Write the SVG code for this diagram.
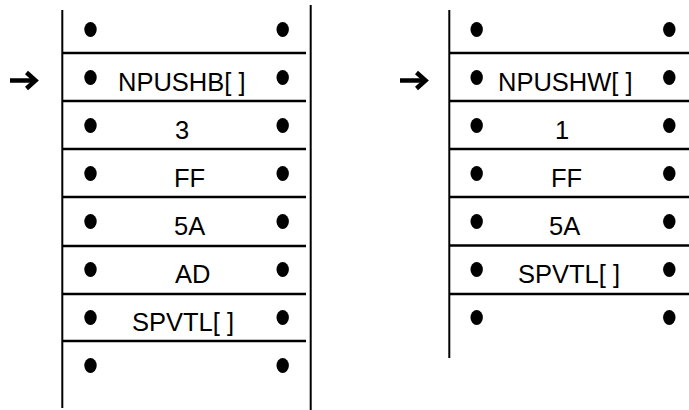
<svg xmlns="http://www.w3.org/2000/svg" width="689" height="410" viewBox="0 0 689 410">
<style>
.ln{stroke:#000;stroke-width:2;fill:none}
.hl{stroke:#000;stroke-width:2.5;fill:none}
.dot{fill:#000}
.t{font-family:"Liberation Sans",Arial,sans-serif;font-size:25.5px;fill:#000}
.arr{stroke:#000;stroke-width:4.5;fill:none;stroke-linejoin:miter}
</style>
<rect width="689" height="410" fill="#fff"/>
<defs>
<g id="dots"><ellipse cx="0" cy="0" rx="6.2" ry="7.5" class="dot"/></g>
</defs>
<g id="stackB">
<line class="ln" x1="62.3" y1="10" x2="62.3" y2="408"/>
<line class="ln" x1="310.7" y1="5" x2="310.7" y2="410"/>
<line class="hl" x1="62" y1="53" x2="306" y2="53"/>
<line class="hl" x1="62" y1="101" x2="306" y2="101"/>
<line class="hl" x1="62" y1="149" x2="306" y2="149"/>
<line class="hl" x1="62" y1="197" x2="306" y2="197"/>
<line class="hl" x1="62" y1="246" x2="306" y2="246"/>
<line class="hl" x1="62" y1="294" x2="306" y2="294"/>
<line class="hl" x1="62" y1="341" x2="306" y2="341"/>
<g id="b-row0"><use href="#dots" x="90.5" y="29.5"/><use href="#dots" x="282.7" y="29.5"/></g>
<g id="b-row1"><use href="#dots" x="90.5" y="77.5"/><use href="#dots" x="282.7" y="77.5"/><text class="t" x="118" y="90.5">NPUSHB[ ]</text></g>
<g id="b-row2"><use href="#dots" x="90.5" y="125.5"/><use href="#dots" x="282.7" y="125.5"/><text class="t" x="175" y="139">3</text></g>
<g id="b-row3"><use href="#dots" x="90.5" y="173.5"/><use href="#dots" x="282.7" y="173.5"/><text class="t" x="174" y="187">FF</text></g>
<g id="b-row4"><use href="#dots" x="90.5" y="221.5"/><use href="#dots" x="282.7" y="221.5"/><text class="t" x="174" y="235">5A</text></g>
<g id="b-row5"><use href="#dots" x="90.5" y="269.5"/><use href="#dots" x="282.7" y="269.5"/><text class="t" x="175" y="283">AD</text></g>
<g id="b-row6"><use href="#dots" x="90.5" y="317.5"/><use href="#dots" x="282.7" y="317.5"/><text class="t" x="132" y="331">SPVTL[ ]</text></g>
<g id="b-row7"><use href="#dots" x="90.5" y="365.5"/><use href="#dots" x="282.7" y="365.5"/></g>
</g>
<g id="stackW">
<line class="ln" x1="449.3" y1="10" x2="449.3" y2="358"/>
<line class="hl" x1="449" y1="53" x2="689" y2="53"/>
<line class="hl" x1="449" y1="101" x2="689" y2="101"/>
<line class="hl" x1="449" y1="149" x2="689" y2="149"/>
<line class="hl" x1="449" y1="197" x2="689" y2="197"/>
<line class="hl" x1="449" y1="245.5" x2="689" y2="245.5"/>
<line class="hl" x1="449" y1="294" x2="689" y2="294"/>
<g id="w-row0"><use href="#dots" x="476.7" y="29.5"/><use href="#dots" x="669.3" y="29.5"/></g>
<g id="w-row1"><use href="#dots" x="476.7" y="77.5"/><use href="#dots" x="669.3" y="77.5"/><text class="t" x="498" y="90.5">NPUSHW[ ]</text></g>
<g id="w-row2"><use href="#dots" x="476.7" y="125.5"/><use href="#dots" x="669.3" y="125.5"/><text class="t" x="555" y="139">1</text></g>
<g id="w-row3"><use href="#dots" x="476.7" y="173.5"/><use href="#dots" x="669.3" y="173.5"/><text class="t" x="551" y="187">FF</text></g>
<g id="w-row4"><use href="#dots" x="476.7" y="221.5"/><use href="#dots" x="669.3" y="221.5"/><text class="t" x="549" y="235">5A</text></g>
<g id="w-row5"><use href="#dots" x="476.7" y="269.5"/><use href="#dots" x="669.3" y="269.5"/><text class="t" x="518" y="283">SPVTL[ ]</text></g>
<g id="w-row6"><use href="#dots" x="476.7" y="317.5"/><use href="#dots" x="669.3" y="317.5"/></g>
</g>
<g id="connectors">
<line class="arr" x1="10" y1="80.5" x2="35" y2="80.5"/>
<polyline class="arr" points="26.5,72.5 35.5,80.5 26.5,88.5"/>
<line class="arr" x1="400" y1="80.5" x2="425" y2="80.5"/>
<polyline class="arr" points="416.5,72.5 425.5,80.5 416.5,88.5"/>
</g>
</svg>
